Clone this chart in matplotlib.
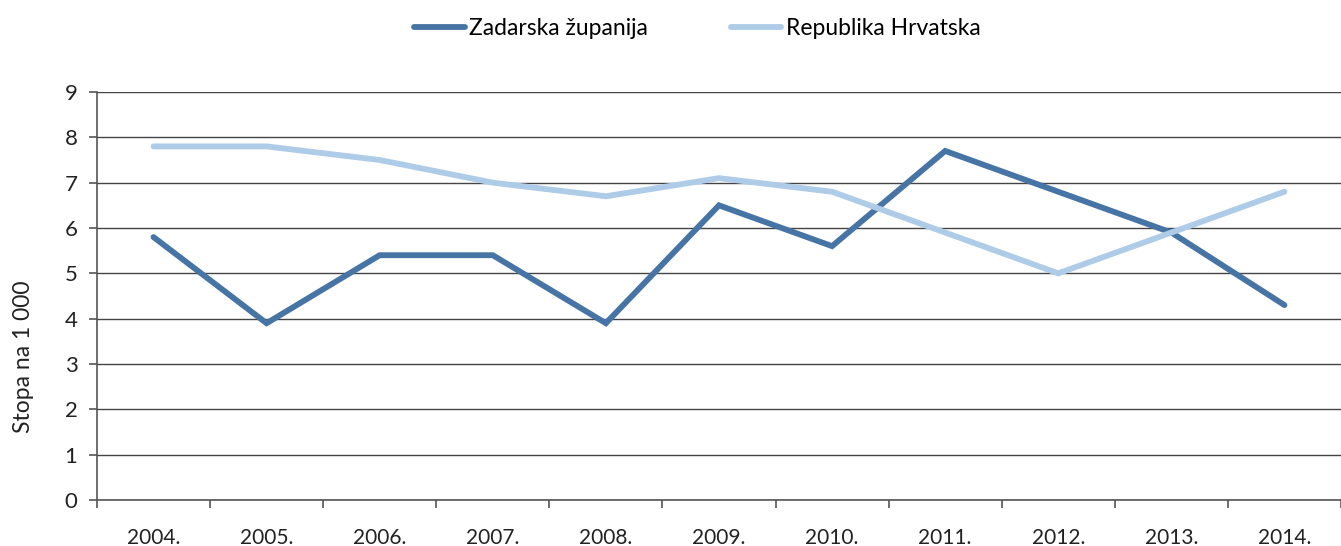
import matplotlib
matplotlib.use("Agg")
import matplotlib.pyplot as plt
import numpy as np

plt.rcParams['font.family'] = ['Lato', 'DejaVu Sans']

years = ["2004.", "2005.", "2006.", "2007.", "2008.", "2009.", "2010.", "2011.", "2012.", "2013.", "2014."]
zadarska = [5.8, 3.9, 5.4, 5.4, 3.9, 6.5, 5.6, 7.7, 6.8, 5.9, 4.3]
hrvatska = [7.8, 7.8, 7.5, 7.0, 6.7, 7.1, 6.8, 5.9, 5.0, 5.9, 6.8]
yticks = list(range(0, 10))

fig = plt.figure(figsize=(13.41, 5.46), dpi=100)
ax = fig.add_axes([0.0723, 0.0842, 0.9277, 0.7473])

x = np.arange(len(years))
l1, = ax.plot(x, zadarska, color="#4674A5", lw=4.2, solid_capstyle="round", solid_joinstyle="miter", label="Zadarska županija")
l2, = ax.plot(x, hrvatska, color="#AECCE8", lw=4.2, solid_capstyle="round", solid_joinstyle="miter", label="Republika Hrvatska")

ax.set_xlim(-0.5, len(years) - 0.5)
ax.set_ylim(0, 9)
ax.set_yticks(yticks)
ax.set_yticklabels([str(v) for v in yticks], fontsize=16, color="#222222")
ax.yaxis.grid(True, color="#444444", lw=1.0)
ax.set_axisbelow(True)

ax.set_xticks(np.arange(-0.5, len(years), 1.0))
ax.set_xticklabels([])
ax.set_xticks(x, minor=True)
ax.set_xticklabels(years, minor=True, fontsize=15, color="#222222")
ax.tick_params(axis="x", which="major", length=6, width=1.2, color="#555555", direction="out")
ax.tick_params(axis="x", which="minor", length=0, pad=20)
ax.tick_params(axis="y", length=6, width=1.2, color="#555555", pad=8)

for s in ["top", "right"]:
    ax.spines[s].set_visible(False)
for s in ["left", "bottom"]:
    ax.spines[s].set_color("#555555")
    ax.spines[s].set_linewidth(1.2)

ax.set_ylabel("Stopa na 1 000", fontsize=16.5, color="#222222", labelpad=22, y=0.35)

fig.legend(handles=[l1, l2], loc="upper center", bbox_to_anchor=(0.52, 1.005), ncol=2,
           frameon=False, fontsize=16.5, handlelength=2.2, handletextpad=0.2, columnspacing=3.6)

fig.savefig("out.png", dpi=100)
